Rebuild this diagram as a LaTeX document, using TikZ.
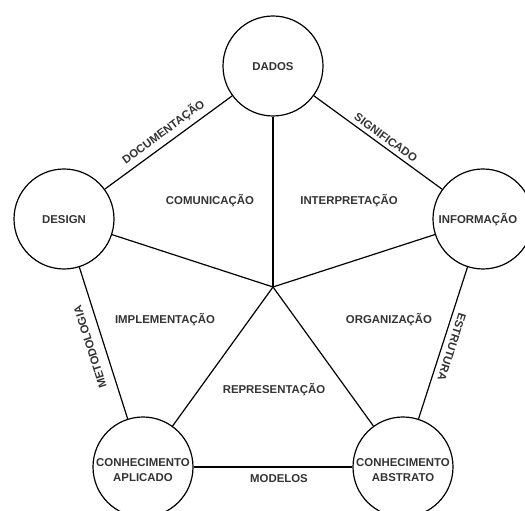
\documentclass[tikz,border=0pt]{standalone}
\usepackage{fontspec}
\setmainfont{Liberation Sans}
\begin{document}
\begin{tikzpicture}[x=1pt,y=1pt,
  ball/.style={circle, draw=black, line width=1.2pt, minimum size=100pt, inner sep=0pt},
  txt/.style={font=\bfseries\fontsize{11.4}{15}\selectfont, text=black!80, inner sep=0pt, text height=8.2pt, text depth=0pt},
  txttwo/.style={font=\bfseries\fontsize{11.4}{15}\selectfont, text=black!80, inner sep=0pt, align=center},
  conn/.style={line width=1.2pt, draw=black}]
\useasboundingbox (0,0) rectangle (525,511);
% circles
\node[ball] (dados) at (273,445) {};
\node[ball] (design) at (64,292) {};
\node[ball] (info) at (483,292) {};
\node[ball] (aplic) at (143,44) {};
\node[ball] (abstr) at (403,44) {};
\coordinate (c) at (273,224);
% spokes
\draw[conn] (c) -- (dados);
\draw[conn] (c) -- (design);
\draw[conn] (c) -- (info);
\draw[conn] (c) -- (aplic);
\draw[conn] (c) -- (abstr);
% outer edges
\draw[conn] (design) -- (dados);
\draw[conn] (dados) -- (info);
\draw[conn] (design) -- (aplic);
\draw[conn] (info) -- (abstr);
\draw[conn] (aplic) -- (abstr);
% circle texts
\node[txt] (tdados) at (273,445) {DADOS};
\node[txt] (tdesign) at (64,292) {DESIGN};
\node[txt] (tinfo) at (478,292) {INFORMAÇÃO};
\node[txttwo] (taplic) at (143,40.5) {CONHECIMENTO\\APLICADO};
\node[txttwo] (tabstr) at (403,40.5) {CONHECIMENTO\\ABSTRATO};
% edge labels
\node[txt, rotate=36.2] (ldoc) at (163.3,379.3) {DOCUMENTAÇÃO};
\node[txt, rotate=-36.2] (lsig) at (386,373.5) {SIGNIFICADO};
\node[txt, rotate=107.7] (lmet) at (90,164) {METODOLOGIA};
\node[txt, rotate=-107.7] (lest) at (452,164) {ESTRUTURA};
\node[txt] (lmod) at (279,33) {MODELOS};
% region labels
\node[txt] (rcom) at (210,311) {COMUNICAÇÃO};
\node[txt] (rint) at (349,311) {INTERPRETAÇÃO};
\node[txt] (rimp) at (165,192) {IMPLEMENTAÇÃO};
\node[txt] (rorg) at (389,192) {ORGANIZAÇÃO};
\node[txt] (rrep) at (274,122) {REPRESENTAÇÃO};
\end{tikzpicture}
\end{document}
